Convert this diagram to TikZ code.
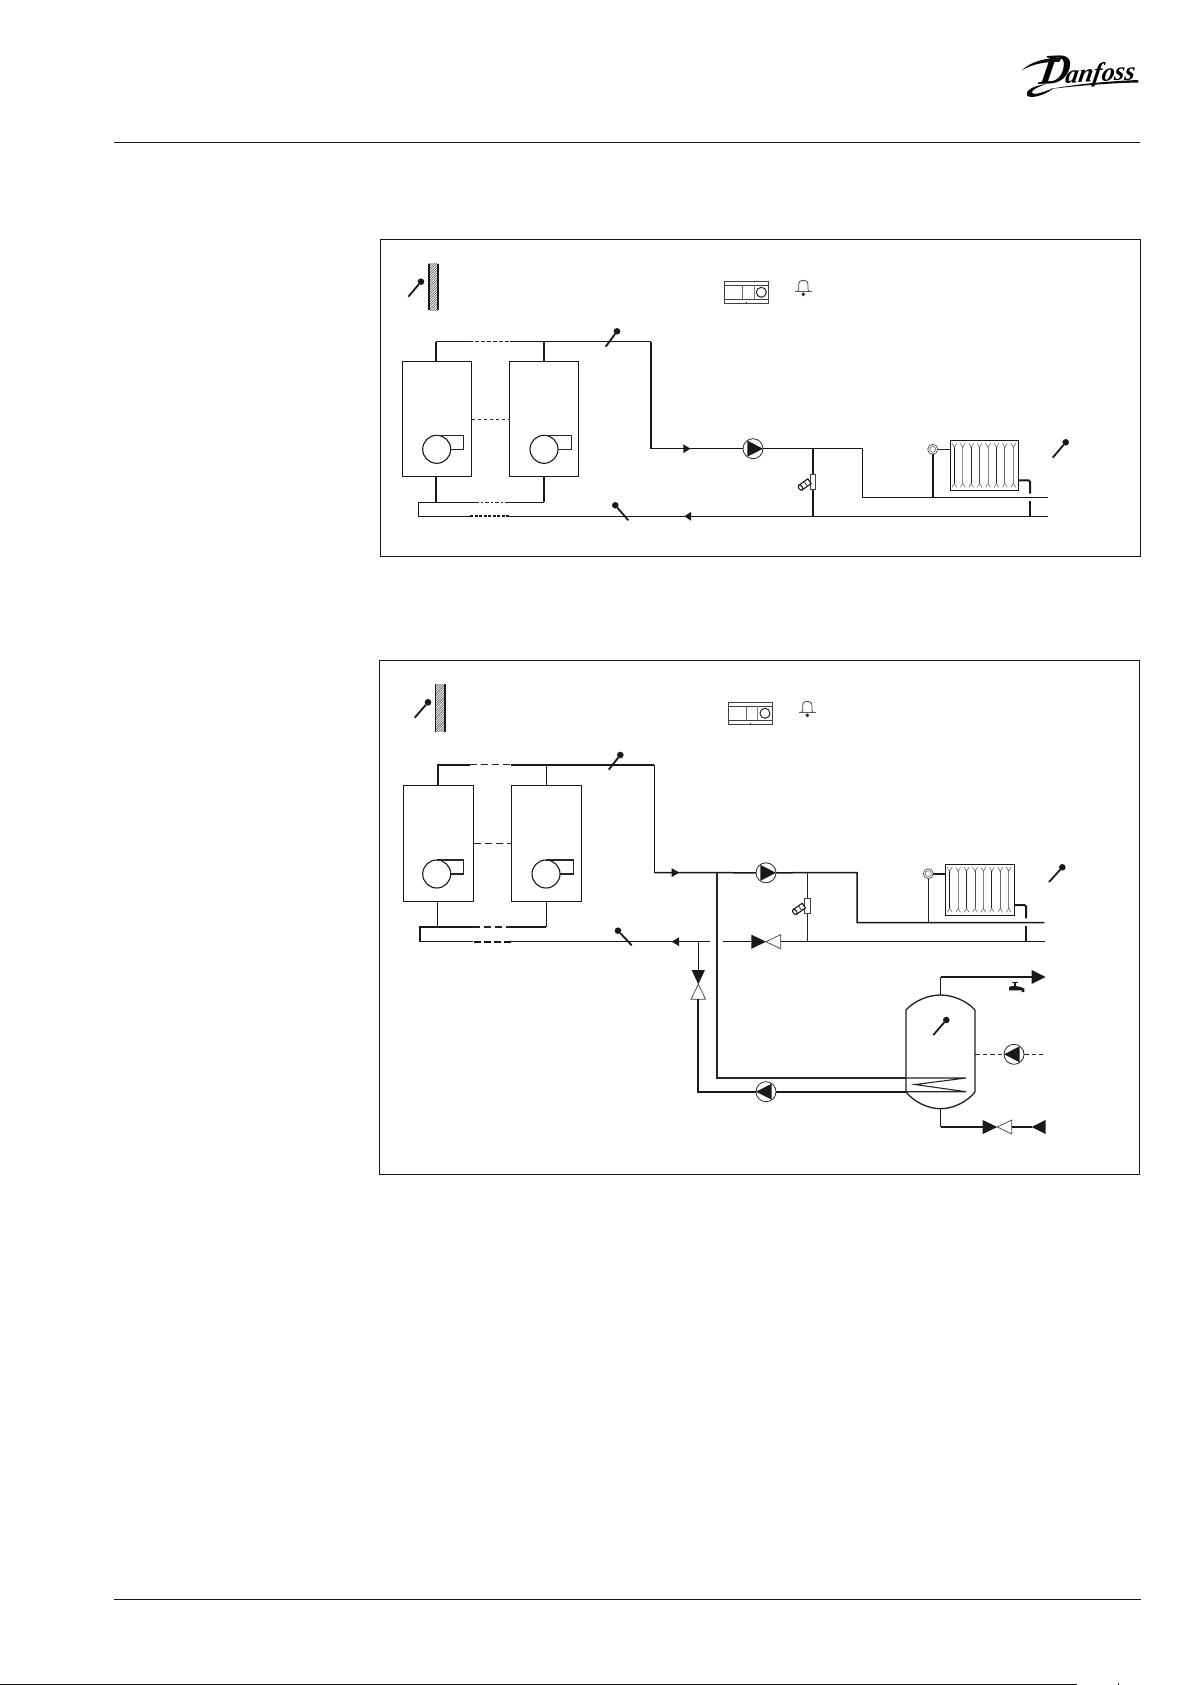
\documentclass[tikz,border=0pt]{standalone}
\usepackage{fontspec}
\newfontfamily\logofont{Liberation Serif}
\tikzset{
  px/.style={x=1pt,y=-1pt},
  frame/.style={draw=black!90,line width=1.3pt},
  rule/.style={draw=black!90,line width=1.2pt},
  pipe/.style={draw=black!90,line width=1.5pt},
  pipeT/.style={draw=black!90,line width=2pt},
  pipeN/.style={draw=black!85,line width=1.1pt},
  thin1/.style={draw=black!85,line width=0.8pt},
  boilerbox/.style={draw=black!90,fill=white,line width=1.3pt,rectangle,minimum width=69.5pt,minimum height=115.5pt,inner sep=0pt,outer sep=0pt},
  fanbox/.style={draw=black!90,fill=white,line width=1.1pt,circle,minimum size=28pt,inner sep=0pt,outer sep=0pt},
  pumpbox/.style={draw=black!85,fill=white,line width=0.8pt,circle,minimum size=20pt,inner sep=0pt,outer sep=0pt},
  ball/.style={fill=black!90,circle,minimum size=6.6pt,inner sep=0pt,outer sep=0pt},
  senstail/.style={draw=black!90,line width=1.8pt},
  blk/.style={fill=black!90,draw=black!90,line width=0.3pt},
  wht/.style={fill=white,draw=black!75,line width=0.7pt},
  dashA/.style={dash pattern=on 3.5pt off 2.5pt},
  dashB/.style={dash pattern=on 7pt off 4pt},
  ctrlbox/.style={draw=black!75,fill=white,line width=0.8pt,rectangle,minimum width=44pt,minimum height=22pt,inner sep=0pt,outer sep=0pt},
  radbox/.style={draw=black!90,fill=white,line width=1.1pt,rectangle,minimum width=68.4pt,minimum height=50.5pt,inner sep=0pt,outer sep=0pt},
  therm/.style={draw=black!70,fill=white,line width=0.7pt,circle,minimum size=10pt,inner sep=0pt,outer sep=0pt},
}
% sensor: name, ball x,y, tail x,y
\newcommand{\senS}[5]{\node[ball] (#1) at (#2,#3) {}; \coordinate (#1t) at (#4,#5); \draw[senstail] (#1) -- (#1t);}
% pump: name,x,y,angle
\newcommand{\pumpP}[4]{\node[pumpbox] (#1) at (#2,#3) {};
  \begin{scope}[shift={(#2,#3)},rotate=#4]\fill[black!90] (-5.7,-8) -- (10,0) -- (-5.7,8) -- cycle;\end{scope}}
% boiler: name,cx,cy,fan x,fan y,ext right
\newcommand{\boilerB}[6]{\node[boilerbox] (#1) at (#2,#3) {};
  \node[fanbox] (#1f) at (#4,#5) {};
  \draw[pipeN,line width=1.2pt] (#1f.north) -- (#6,#5-14) -- (#6,#5) -- (#1f.east);}
% wall: x0,x1,y0,y1, left width, right width
\newcommand{\wallW}[6]{\begin{scope}\clip (#1,#3) rectangle (#2,#4);
   \foreach \i in {0,2.4,...,70}{\draw[black!70,line width=0.55pt] (#1-2,#3+\i) -- (#1+12,#3+\i-14);}\end{scope}
   \draw[black!90,line width=#5] (#1,#3) -- (#1,#4);\draw[black!90,line width=#6] (#2,#3) -- (#2,#4);}
% controller: name,cx,cy
\newcommand{\ctrlC}[3]{\node[ctrlbox] (#1) at (#2,#3) {};
  \draw[black!75,line width=0.7pt] (#2-22,#3-7) -- (#2+22,#3-7) (#2-22,#3+7) -- (#2+22,#3+7);
  \draw[black!60,line width=0.8pt] (#2-4,#3-7) -- (#2-4,#3+7);
  \draw[black!50,line width=0.6pt] (#2+7.5,#3-7) -- (#2+7.5,#3+7);
  \node[draw=black!85,line width=1pt,circle,minimum size=10pt,inner sep=0pt] (#1k) at (#2+15,#3) {};
  \draw[black!90,line width=0.8pt] (#2+.5,#3+10) -- (#2+.5,#3+11);}
% bell: name,x,ytop
\newcommand{\bellB}[3]{\coordinate (#1) at (#2,#3);
  \draw[black!75,line width=0.8pt] (#2-4.6,#3+9.5) -- (#2-4.6,#3+4.5) .. controls (#2-4.6,#3+1) and (#2-3,#3) .. (#2,#3) .. controls (#2+3,#3) and (#2+4.6,#3+1) .. (#2+4.6,#3+4.5) -- (#2+4.6,#3+9.5) -- (#2+6,#3+11.3);
  \draw[black!75,line width=0.8pt] (#2-4.6,#3+9.5) -- (#2-6,#3+11.3);
  \draw[black!65,line width=1pt] (#2-8.3,#3+11.6) -- (#2+8.3,#3+11.6);
  \fill[black!85] (#2,#3+14) circle (1.9);}
% radiator: name,left,top,bottom
\newcommand{\radR}[4]{\node[radbox,minimum height=#4pt-#3pt] (#1) at ({#2+34.2},{(#3+#4)/2}) {};
  \foreach \k/\c in {0/black!90,1/black!45,2/black!85,3/black!70,4/black!50,5/black!85,6/black!60,7/black!50}{
    \pgfmathsetmacro{\xx}{#2+4+8.43*\k}
    \draw[\c,line width=0.8pt] (\xx,#3+7) -- (\xx,#4-7);
    \draw[black!70,line width=0.45pt] (\xx-2.4,#3+3) -- (\xx,#3+7) -- (\xx+2.4,#3+3);
    \draw[black!70,line width=0.45pt] (\xx-2.4,#4-3) -- (\xx,#4-7) -- (\xx+2.4,#4-3);}}
% strainer: name,x,y(center)
\newcommand{\strainS}[3]{\node[draw=black!75,fill=white,line width=0.7pt,rectangle,minimum width=5.3pt,minimum height=15pt,inner sep=0pt,outer sep=0pt] (#1) at (#2,#3) {};
  \begin{scope}[shift={(#2-8,#3+2.6)},rotate=35]
   \draw[black!90,fill=white,line width=1.1pt] (-5,-2.9) rectangle (5.5,2.9);
   \draw[black!90,fill=white,line width=1.1pt] (-5.5,0) ellipse (1.8 and 3);
   \draw[black!80,line width=0.8pt] (1,-2.9) -- (1,2.9);
  \end{scope}}
\begin{document}
\begin{tikzpicture}[px]
\useasboundingbox (0,0) rectangle (1192,1685);
\fill[white] (0,0) rectangle (1192,1685);
% page furniture
\coordinate (hl) at (114,142.3); \coordinate (hr) at (1140,142.3);
\draw[rule] (hl) -- (hr);
\coordinate (fl) at (114,1599.3); \coordinate (fr) at (1140.5,1599.3);
\draw[rule] (fl) -- (fr);
\coordinate (bl) at (0,1684.2); \coordinate (br) at (1077,1684.2);
\draw[rule] (bl) -- (br);
\coordinate (tk1) at (1118.7,1683.3); \coordinate (tk2) at (1118.7,1685);
\draw[black!80,line width=1pt] (tk1) -- (tk2);
% logo
\node[inner sep=0pt,rotate=3,xslant=0.22] (logo) at (1088,71) {\logofont\bfseries\itshape\fontsize{42}{42}\selectfont D\kern-4pt\fontsize{26}{26}\selectfont anfoss};
\fill[black!95] (1021.7,70.5) .. controls (1031,61) and (1046,58) .. (1062,57.5) -- (1059,62) .. controls (1046,61.5) and (1032,64) .. (1021.7,70.5) -- cycle;
\fill[black!95] (1046,84) .. controls (1032,86) and (1025,91) .. (1027,95.5) .. controls (1030,99) and (1044,96) .. (1054,88) .. controls (1044,92) and (1034,95.5) .. (1032,93) .. controls (1031,90) and (1038,87) .. (1046,84) -- cycle;
\fill[black!95] (1050,89) .. controls (1080,83.5) and (1112,81) .. (1138,80) -- (1138.5,82.5) .. controls (1112,83) and (1080,85.5) .. (1050,89) -- cycle;

%%%%%%%% Diagram 1
\node[frame,rectangle,minimum width=760pt,minimum height=317pt,inner sep=0pt,outer sep=0pt] (fr1) at (760.3,397.8) {};
\wallW{428.7}{437.7}{264}{310.3}{1.6pt}{1.6pt}
\senS{a0}{421}{281.7}{408.3}{296.7}
\ctrlC{ac}{746.3}{292.3}
\bellB{ab}{803.3}{280.3}
\coordinate (a1) at (436,341.7); \coordinate (a2) at (469,341.7); \coordinate (a3) at (510,341.7);
\coordinate (a4) at (544,341.7); \coordinate (a5) at (651,341.7); \coordinate (a6) at (651,448.7);
\coordinate (a7) at (862.7,448.7); \coordinate (a8) at (862.7,497.3); \coordinate (a9) at (1048,497.3);
\coordinate (a10) at (813,448.7); \coordinate (a11) at (813,516.3);
\coordinate (r1) at (1048,516.3); \coordinate (r2) at (509,516.3); \coordinate (r3) at (470,516.3);
\coordinate (r4) at (418.3,516.3); \coordinate (r5) at (418.3,502.3); \coordinate (r6) at (436,502.3);
\coordinate (r7) at (475,502.3); \coordinate (r8) at (506,502.3); \coordinate (r9) at (544,502.3);
\coordinate (ax) at (470,419.5);
\boilerB{ab1}{437}{419}{436.7}{449.3}{463.7}
\boilerB{ab2}{544}{419}{544}{449.3}{571.3}
\draw[thin1,dashA] (ab1.east |- ax) -- (ab2.west |- ax);
\draw[pipeT] (ab1.north -| a1) -- (a1);
\draw[pipe] (a1) -- (a2);
\draw[thin1,dashA] (a2) -- (a3);
\draw[pipe] (a3) -- (a5);
\draw[pipeT] (ab2.north -| a4) -- (a4);
\draw[pipeT] (a5) -- (a6);
\pumpP{ap}{753}{448.7}{0}
\draw[pipe] (a6) -- (ap);
\draw[pipe] (ap) -- (a7) -- (a8) -- (a9);
\fill[black!90] (683.3,444.2) -- (690.3,448.7) -- (683.3,453.2) -- cycle;
\draw[pipeT] (a10) -- (a11);
\strainS{as}{813}{481.8}
\draw[pipe] (r1) -- (r2);
\draw[pipeT,dash pattern=on 3pt off 1.5pt] (r2) -- (r3);
\draw[pipe] (r3) -- (r4) -- (r5) -- (r6);
\draw[pipe] (r6) -- (r7);
\draw[pipeN,dash pattern=on 4pt off 2pt on 2pt off 2pt] (r7) -- (r8);
\draw[pipe] (r8) -- (r9);
\draw[pipeT] (ab1.south -| r6) -- (r6);
\draw[pipeT] (ab2.south -| r9) -- (r9);
\fill[black!90] (684.3,516.3) -- (691,511.9) -- (691,520.7) -- cycle;
\senS{a01}{617}{331.3}{605.7}{346.7}
\senS{a02}{615.3}{505.3}{628.3}{520.3}
\radR{ar}{950.3}{440.3}{490.3}
\node[therm] (at) at (932.7,449.3) {};
\node[draw=black!60,line width=0.6pt,circle,minimum size=6pt,inner sep=0pt] (ati) at (932.7,449.3) {};
\draw[pipeN] (at) -- (ar.west |- at);
\coordinate (at2) at (932.7,497.3);
\draw[pipeT] (at) -- (at2);
\coordinate (ar1) at (1018.7,480.3); \coordinate (ar2) at (1030,480.3); \coordinate (ar3) at (1030,493.5);
\coordinate (ar4) at (1030,501); \coordinate (ar5) at (1030,516.3);
\draw[pipeT,rounded corners=1.5pt] (ar1) -- (ar2) -- (ar3);
\draw[pipeT] (ar4) -- (ar5);
\senS{a03}{1065.7}{442.3}{1052.7}{457.7}

%%%%%%%% Diagram 2
\node[frame,rectangle,minimum width=760pt,minimum height=514pt,inner sep=0pt,outer sep=0pt] (fr2) at (759.3,917.3) {};
\wallW{435.3}{444.7}{684.3}{731.7}{1.6pt}{2.2pt}
\senS{b0}{428}{702.3}{414.7}{717.7}
\ctrlC{bc}{750}{713.3}
\bellB{bb}{807.3}{701.3}
\coordinate (b1) at (437.7,764.7); \coordinate (b2) at (470,764.7); \coordinate (b3) at (511.3,764.7);
\coordinate (b4) at (546.3,764.7); \coordinate (b5) at (654.3,764.7); \coordinate (b6) at (654.3,872.6);
\coordinate (b7) at (857,872.6); \coordinate (b8) at (857,922.7); \coordinate (b9) at (1044.3,922.7);
\coordinate (b10) at (807.3,872.6); \coordinate (b11) at (807.3,941.7);
\coordinate (bj) at (717,872.6); \coordinate (bk) at (717,1078);
\coordinate (c1) at (1045,941.7); \coordinate (c2) at (780.7,941.7); \coordinate (c3) at (751.3,941.7);
\coordinate (c4) at (723.3,941.7); \coordinate (c5) at (710,941.7); \coordinate (c6) at (511,941.7);
\coordinate (c7) at (473,941.7); \coordinate (c8) at (420,941.7); \coordinate (c9) at (420,927);
\coordinate (c10) at (437.7,927); \coordinate (c11) at (473,927); \coordinate (c12) at (511,927); \coordinate (c13) at (546.3,927);
\node[boilerbox,minimum width=70.4pt,minimum height=116pt] (bb1) at (438.5,843.3) {};
\node[fanbox] (bb1f) at (436.7,874) {};
\draw[pipeN,line width=1.2pt] (bb1f.north) -- (463.7,860) -- (463.7,874) -- (bb1f.east);
\node[boilerbox,minimum width=70.4pt,minimum height=116pt] (bb2) at (546.5,843.3) {};
\node[fanbox] (bb2f) at (546,874) {};
\draw[pipeN,line width=1.2pt] (bb2f.north) -- (573.7,860) -- (573.7,874) -- (bb2f.east);
\draw[pipeN,dashB] (bb1.east) -- (bb2.west);
\draw[pipeT] (bb1.north -| b1) -- (b1) -- (b2);
\draw[pipeN,dashB] (b2) -- (b3);
\draw[pipeT,line width=1.7pt] (b3) -- (b5);
\draw[pipe] (b5) -- (b6);
\draw[pipe] (bb2.north -| b4) -- (b4);
\pumpP{bp}{766}{872.8}{0}
\draw[pipe] (b6) -- (bp);
\draw[pipe] (bp) -- (b7) -- (b8) -- (b9);
\fill[black!90] (671.7,868.2) -- (679.3,872.6) -- (671.7,877) -- cycle;
\draw[pipeN] (b10) -- (b11);
\strainS{bs}{807.3}{906.2}
% return
\fill[black!90] (751.3,934.6) -- (766,941.7) -- (751.3,948.8) -- cycle;
\draw[wht] (780.7,934.6) -- (766,941.7) -- (780.7,948.8) -- cycle;
\draw[pipe] (c1) -- (c2);
\draw[pipe] (c3) -- (c4);
\draw[pipe] (c5) -- (c6);
\draw[pipeT,dash pattern=on 7pt off 3pt] (c6) -- (c7);
\draw[pipe] (c7) -- (c8) -- (c9) -- (c10) -- (c11);
\draw[pipeN,dashB] (c11) -- (c12);
\draw[pipe] (c12) -- (c13);
\draw[pipe] (bb1.south -| c10) -- (c10);
\draw[pipe] (bb2.south -| c13) -- (c13);
\fill[black!90] (671.7,941.7) -- (679,937.3) -- (679,946.1) -- cycle;
\senS{b01}{620.3}{755}{608.7}{769.7}
\senS{b02}{618}{930.7}{631.7}{945.3}
% branch & loading circuit
\coordinate (d1) at (698.3,941.7); \coordinate (d2) at (698.3,970); \coordinate (d3) at (698.3,999.3);
\coordinate (d4) at (698.3,1091.7); \coordinate (d5) at (906,1091.7);
\draw[pipe] (d1) -- (d2);
\fill[black!90] (691.6,970) -- (705,970) -- (698.3,984.3) -- cycle;
\draw[wht] (691,999.3) -- (705.6,999.3) -- (698.3,984.3) -- cycle;
\pumpP{bq}{766}{1091.7}{180}
\draw[pipeT,line width=1.8pt] (d3) -- (d4) -- (bq);
\draw[pipeT,line width=1.8pt] (bq) -- (d5);
\coordinate (e1) at (966,1078); \coordinate (e2) at (915,1084.5); \coordinate (e3) at (966,1091.7);
\draw[pipeN,line width=1.3pt] (bj) -- (bk) -- (906,1078);
\draw[pipeN] (906,1078) -- (e1) -- (e2) -- (e3) -- (906,1091.7);
% tank
\coordinate (tt) at (940.5,995); \coordinate (tb) at (940.5,1108.7);
\draw[black!88,line width=1.3pt] (906,1010) .. controls (914,1001) and (928,995) .. (tt) .. controls (953,995) and (967,1001) .. (975,1010) -- (975,1092) .. controls (967,1102) and (953,1108.7) .. (tb) .. controls (928,1108.7) and (914,1102) .. (906,1092) -- cycle;
\coordinate (f1) at (940.5,977); \coordinate (f2) at (1032,977);
\draw[pipe] (tt) -- (f1);
\draw[pipeT] (f1) -- (f2);
\fill[black!90] (1031.7,970) -- (1045.7,977) -- (1031.7,984) -- cycle;
\senS{b03}{946.3}{1020}{933.3}{1035}
% faucet
\fill[black!90] (1011.7,981.5) rectangle (1018.3,983.2);
\fill[black!90] (1014,982) rectangle (1016.2,987);
\fill[black!90] (1009,987) .. controls (1012,985.5) and (1019,985.5) .. (1024.3,988.5) -- (1024.3,992) -- (1021.5,992) -- (1021.5,990.3) -- (1009,990.3) -- cycle;
% circulation pump
\pumpP{bw}{1014}{1054.3}{180}
\coordinate (g1) at (975,1054.3); \coordinate (g2) at (1043.3,1054.3);
\draw[thin1,dash pattern=on 4.5pt off 3pt] (g1) -- (bw);
\draw[thin1,dash pattern=on 4.5pt off 3pt] (bw) -- (g2);
% cold in
\coordinate (h1) at (940.5,1127); \coordinate (h2) at (982.7,1127); \coordinate (h3) at (1011.7,1127); \coordinate (h4) at (1032,1127);
\draw[pipe] (tb) -- (h1);
\draw[pipeT] (h1) -- (h2);
\fill[black!90] (982.7,1120) -- (997.3,1127) -- (982.7,1134) -- cycle;
\draw[wht] (1011.7,1120) -- (997.3,1127) -- (1011.7,1134) -- cycle;
\draw[pipeT] (h3) -- (h4);
\fill[black!90] (1031.7,1127) -- (1045.7,1120) -- (1045.7,1134) -- cycle;
% radiator
\radR{br}{945.7}{864.3}{915.3}
\node[therm] (bt) at (928.3,873.7) {};
\node[draw=black!60,line width=0.6pt,circle,minimum size=6pt,inner sep=0pt] (bti) at (928.3,873.7) {};
\draw[pipeT] (bt) -- (br.west |- bt);
\coordinate (bt2) at (928.3,922.7);
\draw[pipeN] (bt) -- (bt2);
\coordinate (br1) at (1014.3,905); \coordinate (br2) at (1026,905); \coordinate (br3) at (1026,918.3);
\coordinate (br4) at (1026,926); \coordinate (br5) at (1026,941.7);
\draw[pipeT,rounded corners=1.5pt] (br1) -- (br2) -- (br3);
\draw[pipeT] (br4) -- (br5);
\senS{b04}{1062.3}{867.3}{1049}{882}
\end{tikzpicture}
\end{document}
